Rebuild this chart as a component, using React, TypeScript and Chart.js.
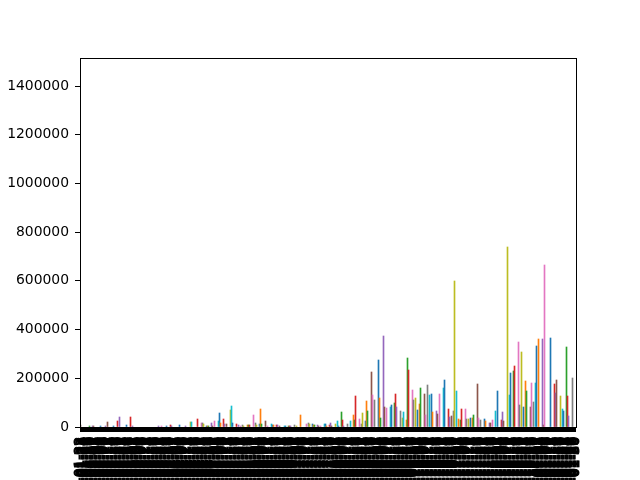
import { useEffect, useRef } from "react";
import { Chart, registerables } from "chart.js";

Chart.register(...registerables);

// ---- data ----
const startDate = "2020-01-22";
const dayCount = 375;

// days (category index) whose bar is visible in the reference, and their values
const dayIndex = [
  0, 7, 9, 10, 15, 19, 20, 25, 28, 29, 35, 38, 39, 59, 61, 65, 68, 69, 75, 79,
  83, 84, 88, 91, 92, 93, 95, 96, 97, 99, 100, 101, 104, 105, 106, 108, 109, 110,
  113, 114, 115, 118, 119, 121, 122, 123, 126, 127, 128, 131, 132, 133, 135, 136,
  137, 140, 141, 144, 145, 146, 148, 149, 150, 154, 155, 157, 158, 159, 162, 163,
  166, 171, 172, 173, 175, 176, 177, 179, 180, 181, 184, 185, 186, 188, 189, 190,
  193, 194, 195, 197, 198, 199, 202, 204, 206, 207, 208, 211, 212, 213, 215, 216,
  217, 220, 221, 222, 225, 226, 227, 229, 230, 231, 234, 235, 237, 238, 239, 242,
  243, 244, 246, 247, 248, 251, 252, 253, 255, 256, 257, 260, 261, 262, 264, 265,
  266, 269, 270, 271, 274, 275, 278, 279, 280, 282, 283, 284, 286, 287, 288, 291,
  292, 293, 295, 296, 297, 300, 301, 302, 305, 306, 309, 310, 311, 314, 315, 318,
  319, 320, 323, 324, 325, 327, 328, 331, 332, 333, 335, 336, 337, 340, 341, 342,
  344, 345, 346, 349, 350, 351, 355, 358, 359, 360, 363, 364, 365, 367, 368, 369,
  372,
];
const dailyValue = [
  8200, 4100, 4100, 4100, 4100, 4100, 20500, 4100, 24600, 41000, 8200, 41000, 4100, 4100, 4100, 4100, 8200, 4100, 8200, 4100,
  20500, 20500, 33000, 16400, 16400, 12300, 4100, 4100, 4100, 16400, 4100, 24600, 24600, 57500, 16400, 33000, 12300, 12300,
  70000, 86000, 16400, 12300, 8200, 4100, 8200, 4100, 8200, 8200, 8200, 49000, 16400, 8200, 12300, 74000,
  12300, 24600, 4100, 12300, 8200, 8200, 8200, 8200, 4100, 4100, 4100, 4100, 4100, 4100, 8200, 4100,
  49000, 12300, 16400, 12300, 12300, 8200, 8200, 8200, 4100, 4100, 12300, 12300, 4100, 8200, 16400, 4100,
  12300, 24600, 4100, 61600, 28700, 4100, 12300, 24600, 49000, 28700, 127000, 33000, 12300, 57500, 24600, 107000,
  66000, 226000, 131000, 111000, 275000, 119000, 37000, 374000, 82000, 78000, 82000, 90000, 99000, 135000, 82000, 66000,
  37000, 62000, 28700, 283000, 234000, 152000, 111000, 119000, 70000, 94000, 160000, 135000, 49000, 172000, 131000, 135000,
  62000, 66000, 53000, 135000, 160000, 193000, 74000, 41000, 45000, 66000, 600000, 148000, 33000, 28700, 74000, 74000,
  33000, 33000, 37000, 37000, 49000, 176000, 37000, 28700, 33000, 24600, 16400, 16400, 28700, 66000, 148000, 28700,
  62000, 24600, 739000, 131000, 222000, 230000, 250000, 349000, 90000, 308000, 82000, 189000, 148000, 82000, 181000, 103000,
  181000, 333000, 361000, 361000, 8200, 665000, 365000, 176000, 140000, 193000, 127000, 74000, 66000, 328000, 127000, 45000,
  201000,
];

const yTicks = [0, 200000, 400000, 600000, 800000, 1000000, 1200000, 1400000];
const yMax = 1515000;

const palette = [
  "#1f77b4", "#ff7f0e", "#2ca02c", "#d62728", "#9467bd",
  "#8c564b", "#e377c2", "#7f7f7f", "#bcbd22", "#17becf",
];
const colorOffset = 5;

function buildLabels(): string[] {
  const out: string[] = [];
  const d0 = new Date(startDate + "T00:00:00Z").getTime();
  for (let i = 0; i < dayCount; i++) {
    out.push(new Date(d0 + i * 86400000).toISOString().slice(0, 10));
  }
  return out;
}

function buildSeries(): (number | null)[] {
  const arr: (number | null)[] = new Array(dayCount).fill(null);
  dayIndex.forEach((d, k) => {
    arr[d] = dailyValue[k];
  });
  return arr;
}

const FONT = { family: "DejaVu Sans", size: 13.9 };

const snapBars = {
  id: "snapBars",
  beforeDatasetsDraw(chart: any) {
    chart.data.datasets.forEach((_: any, di: number) => {
      const meta = chart.getDatasetMeta(di);
      meta.data.forEach((el: any) => {
        el.x = Math.floor(el.x) + 0.5;
        el.y = Math.round(el.y);
      });
    });
  },
};

const frame = {
  id: "frame",
  afterDraw(chart: any) {
    const { ctx, chartArea } = chart;
    ctx.save();
    ctx.strokeStyle = "#000";
    ctx.lineWidth = 1;
    ctx.strokeRect(
      chartArea.left + 0.5,
      chartArea.top + 0.5,
      chartArea.right - chartArea.left,
      chartArea.bottom - chartArea.top
    );
    ctx.restore();
  },
};

export default function App() {
  const ref = useRef<HTMLCanvasElement | null>(null);

  useEffect(() => {
    if (!ref.current) return;
    const labels = buildLabels();
    const colors = labels.map((_, i) => palette[(i + colorOffset) % 10]);
    const chart = new Chart(ref.current, {
      type: "bar",
      data: {
        labels,
        datasets: [
          {
            data: buildSeries(),
            backgroundColor: colors,
            borderWidth: 0,
            barThickness: 1,
            categoryPercentage: 1,
            barPercentage: 1,
          },
        ],
      },
      options: {
        animation: false,
        responsive: true,
        maintainAspectRatio: false,
        devicePixelRatio: 1,
        events: [],
        layout: { padding: { top: 58, right: 64, left: 0, bottom: 0 } },
        plugins: {
          legend: { display: false },
          tooltip: { enabled: false },
          title: { display: false },
        },
        scales: {
          x: {
            type: "category",
            offset: true,
            grid: {
              display: true,
              offset: false,
              drawOnChartArea: false,
              drawTicks: true,
              tickLength: 5,
              color: "#000",
              lineWidth: 2,
            },
            border: { display: false },
            ticks: {
              autoSkip: false,
              maxRotation: 90,
              minRotation: 90,
              padding: 5,
              color: "#000",
              textStrokeColor: "#000",
              textStrokeWidth: 1.0,
              font: FONT,
            },
            afterFit: (s: any) => {
              s.height = 53;
            },
          },
          y: {
            min: 0,
            max: yMax,
            grid: {
              drawOnChartArea: false,
              drawTicks: true,
              tickLength: 5,
              color: "#000",
            },
            border: { display: false },
            ticks: {
              includeBounds: false,
              stepSize: 200000,
              padding: 6,
              color: "#000",
              font: FONT,
              callback: (v: any) => String(v),
            },
            afterBuildTicks: (s: any) => {
              s.ticks = yTicks.map((v) => ({ value: v }));
            },
            afterFit: (s: any) => {
              s.width = 80;
            },
          },
        },
      },
      plugins: [snapBars, frame],
    } as any);
    return () => chart.destroy();
  }, []);

  return (
    <div style={{ position: "absolute", left: 0, top: 0, width: 640, height: 480 }}>
      <canvas ref={ref} />
    </div>
  );
}
